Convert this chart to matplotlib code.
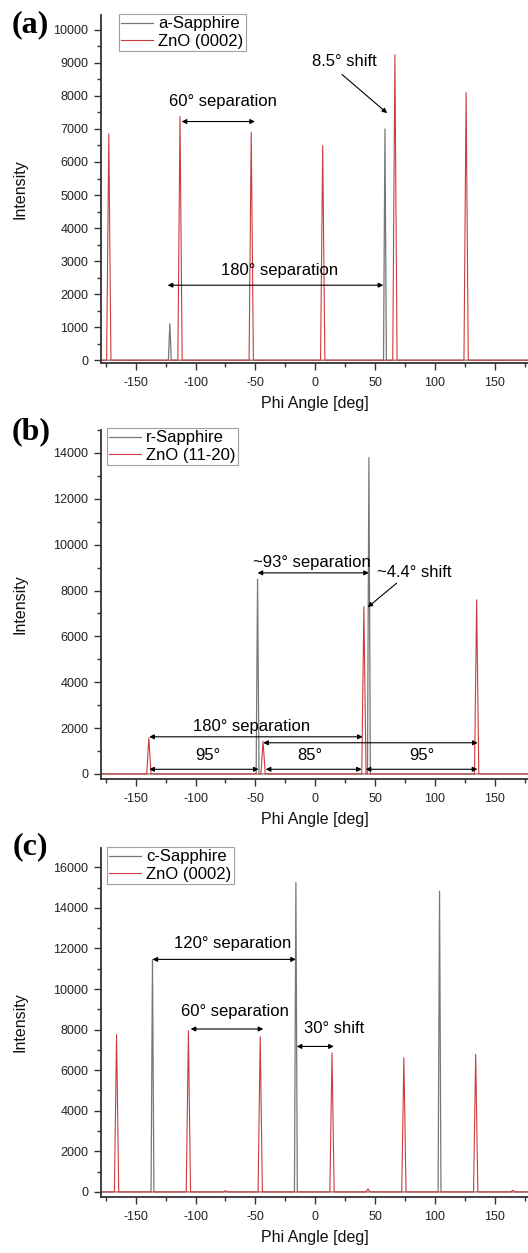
import matplotlib
matplotlib.use("Agg")
import matplotlib.pyplot as plt
from matplotlib.ticker import MultipleLocator

plt.rcParams['font.family'] = ['Liberation Sans', 'DejaVu Sans']
plt.rcParams['axes.unicode_minus'] = False

# peak positions (deg) and peak intensities for each phi scan
a_phi_sapphire = [-121.5, 58.2]
a_int_sapphire = [1100, 7000]
a_phi_zno = [-172.5, -113.0, -53.5, 6.2, 66.5, 126.0]
a_int_zno = [6850, 7380, 6900, 6500, 9250, 8100]

b_phi_sapphire = [-48.2, 44.8]
b_int_sapphire = [8500, 13800]
b_phi_zno = [-139.0, -43.6, 40.6, 134.8]
b_int_zno = [1580, 1420, 7300, 7600]

c_phi_sapphire = [-136.0, -16.2, 103.8]
c_int_sapphire = [11450, 15250, 14820]
c_phi_zno = [-166.0, -106.0, -75.0, -46.0, 14.0, 44.0, 74.0, 134.0, 165.0]
c_int_zno = [7750, 7950, 60, 7650, 6850, 150, 6620, 6780, 80]

panel_tags = ['(a)', '(b)', '(c)']
sapphire_names = ['a-Sapphire', 'r-Sapphire', 'c-Sapphire']
zno_names = ['ZnO (0002)', 'ZnO (11-20)', 'ZnO (0002)']

GRAY = '#777777'
RED = '#cc3b3b'
XLIM = (-179, 177.7)


def trace(phis, ints, hw):
    """Baseline at zero with a narrow triangular peak at each phi."""
    xs, ys = [-180.0], [0.0]
    for p, h in sorted(zip(phis, ints)):
        xs += [p - hw, p, p + hw]
        ys += [0.0, h, 0.0]
    xs.append(180.0)
    ys.append(0.0)
    return xs, ys


def darrow(ax, x0, x1, y):
    ax.annotate('', xy=(x1, y), xytext=(x0, y),
                arrowprops=dict(arrowstyle='<|-|>', mutation_scale=7,
                                lw=0.8, color='black', shrinkA=0, shrinkB=0))


def sarrow(ax, x0, y0, x1, y1):
    ax.annotate('', xy=(x1, y1), xytext=(x0, y0),
                arrowprops=dict(arrowstyle='-|>', mutation_scale=7,
                                lw=0.8, color='black', shrinkA=0, shrinkB=0))


W, H = 528, 1253
fig = plt.figure(figsize=(W / 100, H / 100), dpi=100)

# axes boxes in pixels: left, bottom spine, top
boxes = [(101, 363, 15), (101, 779, 430), (101, 1197, 848)]
ylims = [(-85, 10450), (-220, 15000), (-250, 16950)]
ymajor = [1000, 2000, 2000]
yminor = [500, 1000, 1000]
legend_pos = [(0.042, 1.003), (0.014, 1.006), (0.014, 1.003)]
tag_pos = [(12, 25), (12, 432), (13, 847)]

data = [
    (a_phi_sapphire, a_int_sapphire, a_phi_zno, a_int_zno),
    (b_phi_sapphire, b_int_sapphire, b_phi_zno, b_int_zno),
    (c_phi_sapphire, c_int_sapphire, c_phi_zno, c_int_zno),
]

axes = []
for i, (left, bot, top) in enumerate(boxes):
    ax = fig.add_axes([left / W, 1 - bot / H, 1 - left / W, (bot - top) / H])
    axes.append(ax)
    ps, isa, pz, iz = data[i]
    xs, ys = trace(ps, isa, 1.2)
    ax.plot(xs, ys, color=GRAY, lw=0.9, label=sapphire_names[i])
    xs, ys = trace(pz, iz, 1.8)
    ax.plot(xs, ys, color=RED, lw=0.8, label=zno_names[i])

    ax.set_xlim(*XLIM)
    ax.set_ylim(*ylims[i])
    ax.xaxis.set_major_locator(MultipleLocator(50))
    ax.xaxis.set_minor_locator(MultipleLocator(25))
    ax.yaxis.set_major_locator(MultipleLocator(ymajor[i]))
    ax.yaxis.set_minor_locator(MultipleLocator(yminor[i]))
    for s in ['top', 'right']:
        ax.spines[s].set_visible(False)
    for s in ['left', 'bottom']:
        ax.spines[s].set_color('#333333')
        ax.spines[s].set_linewidth(1.3)
    ax.tick_params(which='major', direction='out', length=5, width=1,
                   color='#333333', labelsize=9, labelcolor='#222222')
    ax.tick_params(which='minor', direction='out', length=2.7, width=1,
                   color='#333333')
    ax.tick_params(axis='x', pad=5)
    ax.tick_params(axis='y', pad=4)

    ax.set_xlabel('Phi Angle [deg]', fontsize=11.5, color='#111111')
    ax.set_ylabel('Intensity', fontsize=11.5, color='#111111')
    ax.xaxis.set_label_coords(0.5, -0.095)
    ax.yaxis.set_label_coords(-0.172, 0.5)

    leg = ax.legend(loc='upper left', bbox_to_anchor=legend_pos[i],
                    fontsize=12, frameon=True, fancybox=False,
                    handlelength=1.9, handletextpad=0.3, labelspacing=0.15,
                    borderpad=0.15, borderaxespad=0)
    leg.get_frame().set_edgecolor('#888888')
    leg.get_frame().set_linewidth(0.8)

    fig.text(tag_pos[i][0] / W, 1 - tag_pos[i][1] / H, panel_tags[i],
             family='Liberation Serif', weight='bold', fontsize=23,
             ha='left', va='center')

ann = dict(fontsize=12, ha='center', va='center')

# (a)
ax = axes[0]
ax.text(-77.3, 7830, '60° separation', **ann)
darrow(ax, -111.6, -50.4, 7225)
ax.text(-29.7, 2730, '180° separation', **ann)
darrow(ax, -123.3, 56.8, 2270)
ax.text(24.5, 9050, '8.5° shift', **ann)
sarrow(ax, 22.3, 8650, 60.0, 7480)

# (b)
ax = axes[1]
ax.text(-2.5, 9230, '~93° separation', **ann)
darrow(ax, -48.2, 44.8, 8770)
ax.text(83, 8770, '~4.4° shift', **ann)
sarrow(ax, 68.0, 8320, 43.8, 7270)
ax.text(-53, 2060, '180° separation', **ann)
darrow(ax, -138.7, 39.6, 1620)
darrow(ax, -43.5, 135.7, 1360)
darrow(ax, -138.7, -47.3, 204)
darrow(ax, -41.4, 38.8, 204)
darrow(ax, 42.1, 135.4, 204)
ax.text(-89.4, 826, '95°', **ann)
ax.text(-4.4, 826, '85°', **ann)
ax.text(88.9, 826, '95°', **ann)

# (c)
ax = axes[2]
ax.text(-69.2, 12240, '120° separation', **ann)
darrow(ax, -136.0, -16.2, 11460)
ax.text(-66.7, 8890, '60° separation', **ann)
darrow(ax, -104.1, -43.4, 8030)
ax.text(15.4, 8030, '30° shift', **ann)
darrow(ax, -15.5, 15.5, 7170)

fig.savefig('out.png', dpi=100)
